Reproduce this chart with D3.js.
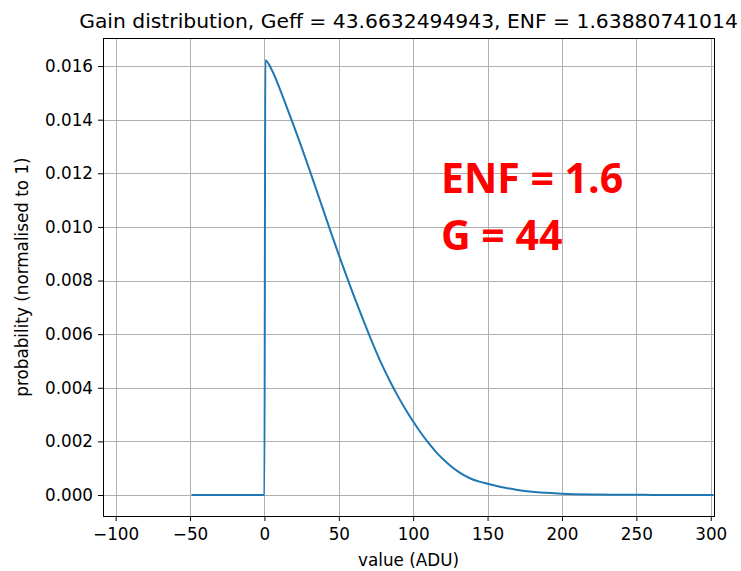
<!DOCTYPE html>
<html lang="en">
<head>
<meta charset="UTF-8">
<title>Gain distribution</title>
<script src="https://d3js.org/d3.v7.min.js"></script>
<style>
    body { margin: 0; background: #fff; }
    svg { font-family: "DejaVu Sans", sans-serif; }
    .grid line { stroke: #b0b0b0; stroke-width: 1.1; shape-rendering: crispEdges; }
    .axis path { display: none; }
    .axis line { stroke: #000; }
    .axis text { font-size: 16.8px; fill: #000; font-family: "DejaVu Sans", sans-serif; }
</style>
</head>
<body>
<svg width="741" height="571"></svg>
<script>
// values
let xValues = [-49, 0, 0.6, 5, 10, 15, 20, 25, 30, 35, 40, 45, 50, 55, 60, 65, 70, 75, 80, 85,
    90, 95, 100, 105, 110, 115, 120, 125, 130, 135, 140, 145, 150, 160, 170, 180, 190, 200,
    220, 240, 260, 280, 302];
let probValues = [0, 0, 0.01622, 0.01585, 0.0152, 0.01447, 0.01373, 0.01297, 0.01218, 0.01137,
    0.01056, 0.00975, 0.00896, 0.00819, 0.00745, 0.00673, 0.00603, 0.00536, 0.00474, 0.00418,
    0.00366, 0.00318, 0.00274, 0.00233, 0.00196, 0.00163, 0.00134, 0.00109, 0.00088, 0.00071,
    0.00058, 0.00049, 0.00042, 0.00029, 0.00019, 0.00012, 0.00008, 0.00005,
    0.00002, 0.00001, 0.000005, 0, 0];
let xTicks = [-100, -50, 0, 50, 100, 150, 200, 250, 300];
let yTicks = [0, 0.002, 0.004, 0.006, 0.008, 0.010, 0.012, 0.014, 0.016];
let titleText = "Gain distribution, Geff = 43.6632494943, ENF = 1.63880741014";
let notes = ["ENF = 1.6", "G = 44"];

let margin = { top: 38, right: 27, bottom: 55, left: 103 };
let width = 741 - margin.left - margin.right;
let height = 571 - margin.top - margin.bottom;

let svg = d3.select("svg")
    .append("g")
    .attr("transform", `translate(${margin.left},${margin.top})`);

let x = d3.scaleLinear().domain([-108.5, 302.2]).range([0, width]);
let y = d3.scaleLinear().domain([-0.000783, 0.017047]).range([height, 0]);

// grid
svg.append("g").attr("class", "grid")
    .selectAll("line").data(xTicks).join("line")
    .attr("x1", d => Math.round(x(d)) + 0.5).attr("x2", d => Math.round(x(d)) + 0.5)
    .attr("y1", 0).attr("y2", height);
svg.append("g").attr("class", "grid")
    .selectAll("line").data(yTicks).join("line")
    .attr("y1", d => Math.round(y(d)) + 0.5).attr("y2", d => Math.round(y(d)) + 0.5)
    .attr("x1", 0).attr("x2", width);

let data = xValues.map((v, i) => ({ x: v, p: probValues[i] }));

let line = d3.line()
    .x(d => x(d.x))
    .y(d => y(d.p))
    .curve(d3.curveMonotoneX);

svg.append("path")
    .datum(data)
    .attr("fill", "none")
    .attr("stroke", "#1f77b4")
    .attr("stroke-width", 2)
    .attr("stroke-linejoin", "round")
    .attr("d", line);

// axes
let gX = svg.append("g").attr("class", "axis")
    .attr("transform", `translate(0,${height})`)
    .call(d3.axisBottom(x).tickValues(xTicks).tickSize(5).tickPadding(5)
        .tickFormat(d => (d < 0 ? "\u2212" : "") + Math.abs(d)));
let gY = svg.append("g").attr("class", "axis")
    .call(d3.axisLeft(y).tickValues(yTicks).tickSize(5).tickPadding(5).tickFormat(d3.format(".3f")));
gX.selectAll("text").attr("dy", "0.85em");

// frame
svg.append("rect")
    .attr("width", width).attr("height", height)
    .attr("fill", "none").attr("stroke", "#000").attr("stroke-width", 1)
    .attr("shape-rendering", "crispEdges");

// title and labels
svg.append("text")
    .attr("x", width / 2).attr("y", -10)
    .attr("text-anchor", "middle")
    .attr("font-size", "20.3px")
    .text(titleText);

svg.append("text")
    .attr("x", width / 2).attr("y", height + 50)
    .attr("text-anchor", "middle")
    .attr("font-size", "16.8px")
    .text("value (ADU)");

svg.append("text")
    .attr("transform", `translate(${-75},${height / 2}) rotate(-90)`)
    .attr("text-anchor", "middle")
    .attr("font-size", "16.8px")
    .text("probability (normalised to 1)");

// red annotation
svg.selectAll(".note").data(notes).join("text")
    .attr("class", "note")
    .attr("x", 441 - margin.left)
    .attr("y", (d, i) => [192.7, 249.5][i] - margin.top)
    .attr("fill", "#ff0000")
    .attr("font-family", "'Open Sans', sans-serif")
    .attr("font-weight", "bold")
    .attr("font-size", "41px")
    .text(d => d);
</script>
</body>
</html>
